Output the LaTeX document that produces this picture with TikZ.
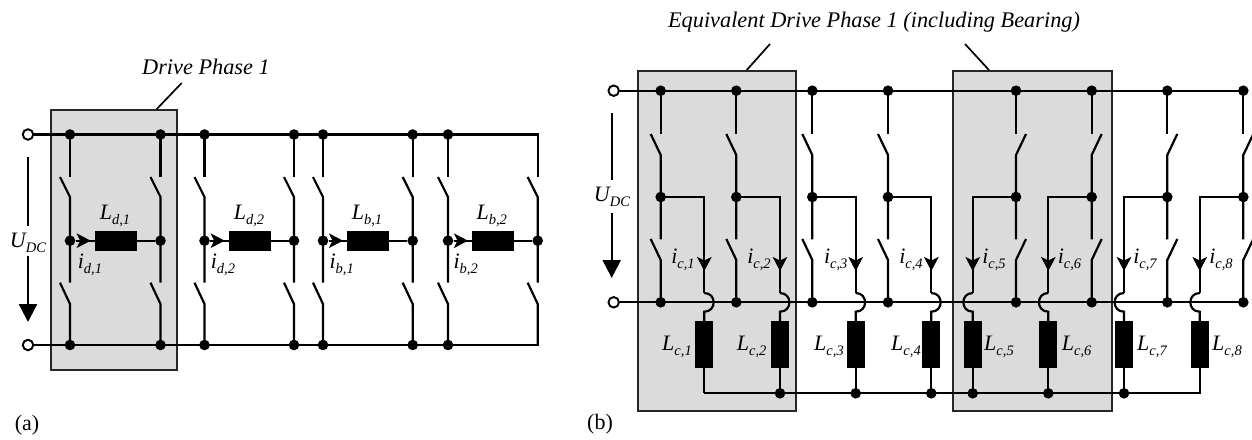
\documentclass[tikz,border=0pt]{standalone}
\usepackage{fontspec}
\setmainfont{Liberation Serif}
\usetikzlibrary{arrows.meta}
\newcommand{\sublab}[2]{\textit{#1\raisebox{-4.5pt}{\fontsize{14.5}{14.5}\selectfont #2}}}
\tikzset{
  wire/.style={line width=2.2pt,line cap=butt,line join=miter},
  junction/.style={circle,fill=black,inner sep=0pt,minimum size=10.6pt},
  terminal/.style={circle,draw=black,fill=white,line width=1.9pt,inner sep=0pt,minimum size=10.5pt},
  coilh/.style={rectangle,fill=black,inner sep=0pt,minimum width=42pt,minimum height=20pt},
  coilv/.style={rectangle,fill=black,inner sep=0pt,minimum width=18pt,minimum height=47pt},
  phasebox/.style={draw=black!85,fill=black!14,line width=1.8pt},
  lbl/.style={inner sep=0pt,font=\fontsize{22}{24}\selectfont},
  pointer/.style={line width=1.7pt},
  smalltip/.style={-{Stealth[length=14pt,width=14.5pt,inset=3.5pt]}},
  bigtip/.style={-{Stealth[length=18pt,width=18pt,inset=0pt]}}
}
\begin{document}
\begin{tikzpicture}[x=1pt,y=-1pt]
\useasboundingbox (0,0) rectangle (1252,439);
% shaded boxes
\node[phasebox,minimum width=126pt,minimum height=260pt,inner sep=0pt] (boxA) at (114,240) {};
\node[phasebox,minimum width=157.7pt,minimum height=340pt,inner sep=0pt] (boxB1) at (717.2,241) {};
\node[phasebox,minimum width=158.4pt,minimum height=340pt,inner sep=0pt] (boxB2) at (1032.5,241) {};
% titles
\node[lbl,font=\fontsize{22.3}{24}\itshape] (titleA) at (206,67) {Drive Phase 1};
\node[lbl,font=\fontsize{22.3}{24}\itshape] (titleB) at (874,22) {Equivalent Drive Phase 1 (including Bearing)};
\coordinate (ptA) at (181.7,83);
\coordinate (ptB1) at (770,44);
\coordinate (ptB2) at (965,44);
\draw[pointer] (ptA) -- (boxA.north -| 156.7,0);
\draw[pointer] (ptB1) -- (boxB1.north -| 746.7,0);
\draw[pointer] (ptB2) -- (boxB2.north -| 989,0);
\node[lbl] (capA) at (27,425) {(a)};
\node[lbl] (capB) at (600,424) {(b)};
% ---------- panel (a) ----------
\node[terminal] (aT) at (28,134.5) {};
\node[terminal] (aB) at (28,345) {};
\foreach \i/\x in {1/70,2/160.5,3/204.5,4/294,5/323,6/412.7,7/448,8/537.7}{
  \coordinate (a\i t) at (\x,134.5);
  \coordinate (a\i b) at (\x,345);
  \coordinate (a\i m) at (\x,240.7);
  \coordinate (a\i s1) at (\x,177);
  \coordinate (a\i h1) at (\x-10,177);
  \coordinate (a\i k1) at (\x,197);
  \coordinate (a\i s2) at (\x,282.7);
  \coordinate (a\i h2) at (\x-10,282.7);
  \coordinate (a\i k2) at (\x,304);
  \draw[wire] (a\i t) -- (a\i s1);
  \draw[wire] (a\i h1) -- (a\i k1) -- (a\i s2);
  \draw[wire] (a\i h2) -- (a\i k2) -- (a\i b);
}
\draw[wire] (aT) -- (a8t) -- (a8s1);
\draw[wire] (aB) -- (a8b) -- (a8k2);
\foreach \i in {1,...,7}{
  \node[junction] (a\i T) at (a\i t) {};
  \node[junction] (a\i B) at (a\i b) {};
}
\foreach \i in {1,...,8}{ \node[junction] (a\i M) at (a\i m) {}; }
\foreach \l/\y/\j/\k/\cx/\lx/\ix in {d/1/1/2/115.7/115/90,d/2/3/4/249.7/249/223,b/1/5/6/368/367/341.7,b/2/7/8/493/491.7/465.7}{
  \node[coilh] (aL\j) at (\cx,240.7) {};
  \draw[wire] (a\j M) -- (aL\j);
  \draw[wire] (aL\j) -- (a\k M);
  \coordinate (aA\j) at (\cx-25,240.7);
  \draw[wire,smalltip] (a\j M) -- (aA\j);
  \node[lbl] (aLL\j) at (\lx,216) {\sublab{L}{\l,\y}};
  \node[lbl] (aIL\j) at (\ix,265) {\sublab{i}{\l,\y}};
}
\coordinate (aU1) at (28,157);
\coordinate (aU2) at (28,226);
\coordinate (aU3) at (28,322);
\node[lbl] (aU) at (28,243) {\sublab{U}{DC}};
\draw[wire] (aU1) -- (aU2);
\draw[wire,bigtip] (aU.south) ++(0,3) -- (aU3);
% ---------- panel (b) ----------
\node[terminal] (bT) at (613.7,90.7) {};
\node[terminal] (bB) at (613.7,302.3) {};
\foreach \i/\x/\s in {1/660.7/-1,2/736.3/-1,3/812.3/-1,4/888/-1,5/1016/1,6/1091.7/1,7/1167.3/1,8/1243.3/1}{
  \coordinate (b\i t) at (\x,90.7);
  \coordinate (b\i b) at (\x,302.3);
  \coordinate (b\i m) at (\x,197);
  \coordinate (b\i s1) at (\x,134.3);
  \coordinate (b\i h1) at (\x+\s*10,134);
  \coordinate (b\i k1) at (\x,155);
  \coordinate (b\i s2) at (\x,239.3);
  \coordinate (b\i h2) at (\x+\s*10,239);
  \coordinate (b\i k2) at (\x,260);
  \draw[wire] (b\i t) -- (b\i s1);
  \draw[wire] (b\i h1) -- (b\i k1) -- (b\i s2);
  \draw[wire] (b\i h2) -- (b\i k2) -- (b\i b);
}
\draw[wire] (bT) -- (b8t);
\draw[wire] (bB) -- (b8b);
\foreach \i/\x/\s/\ix/\lx in {1/704.3/1/683/677,2/780/1/759/751.7,3/855.7/1/835.7/829,4/931.3/1/911/906,5/972.7/-1/994/999,6/1048.3/-1/1069.5/1076.7,7/1124/-1/1145/1152,8/1199.7/-1/1221/1227}{
  \coordinate (c\i a) at (\x,197);
  \coordinate (c\i tip) at (\x,271);
  \coordinate (c\i h) at (\x,293);
  \coordinate (c\i g) at (\x,311.7);
  \coordinate (c\i r) at (\x,393.3);
  \node[coilv] (bL\i) at (\x,344.5) {};
  \draw[wire] (b\i m) -- (c\i a) -- (c\i h);
  \draw[wire,smalltip] (c\i a) -- (c\i tip);
  \draw[wire] (c\i h) .. controls ([xshift=\s*12.5]c\i h) and ([xshift=\s*12.5]c\i g) .. (c\i g) -- (bL\i);
  \draw[wire] (bL\i) -- (c\i r);
  \node[lbl] (bIL\i) at (\ix,260) {\sublab{i}{c,\i}};
  \node[lbl] (bLL\i) at (\lx,347) {\sublab{L}{c,\i}};
}
\draw[wire] (c1r) -- (c8r) -- (bL8);
\foreach \i in {1,...,8}{
  \node[junction] (b\i T) at (b\i t) {};
  \node[junction] (b\i B) at (b\i b) {};
  \node[junction] (b\i M) at (b\i m) {};
}
\foreach \i in {2,...,7}{ \node[junction] (c\i R) at (c\i r) {}; }
\coordinate (bU1) at (611.7,113);
\coordinate (bU2) at (611.7,180);
\coordinate (bU3) at (611.7,213);
\coordinate (bU4) at (611.7,278);
\node[lbl] (bU) at (612,197) {\sublab{U}{DC}};
\draw[wire] (bU1) -- (bU2);
\draw[wire,bigtip] (bU3) -- (bU4);
\end{tikzpicture}
\end{document}
